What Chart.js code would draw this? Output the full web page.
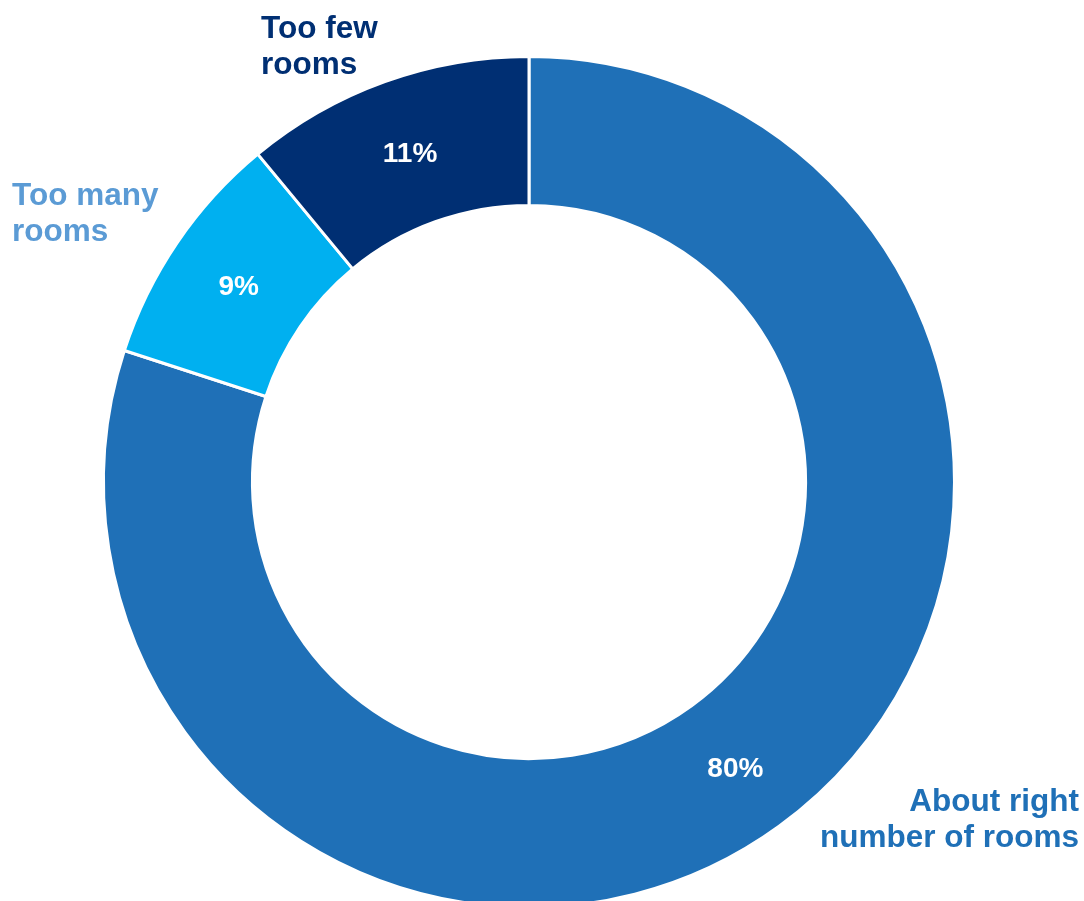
<!DOCTYPE html>
<html>
<head>
<meta charset="utf-8">
<script src="https://cdn.jsdelivr.net/npm/chart.js@4.4.1/dist/chart.umd.min.js"></script>
<style>
  html, body { margin: 0; padding: 0; background: #fff; overflow: hidden; }
  #wrap { width: 1084px; height: 964px; }
</style>
</head>
<body>
<div id="wrap"><canvas id="myChart" width="1084" height="964"></canvas></div>
<script>
const categories = ['About right number of rooms', 'Too many rooms', 'Too few rooms'];
const shares = [80, 9, 11];
const sliceColors = ['#1F70B7', '#00B0F0', '#002F73'];

// outside category labels: text lines, colour, anchor relative to the ring centre
const outerLabels = [
    { lines: ['About right', 'number of rooms'], color: '#1F70B7', align: 'right', dx: 550, dy: 329 },
    { lines: ['Too many', 'rooms'], color: '#5B9BD5', align: 'left', dx: -517, dy: -277 },
    { lines: ['Too few', 'rooms'], color: '#002F73', align: 'left', dx: -268, dy: -444 }
];

const ringLabels = {
    id: 'ringLabels',
    afterDatasetsDraw(chart) {
        const ctx = chart.ctx;
        const arcs = chart.getDatasetMeta(0).data;
        ctx.save();
        ctx.textAlign = 'center';
        ctx.textBaseline = 'middle';
        ctx.fillStyle = '#ffffff';
        ctx.font = 'bold 28px "Liberation Sans", Arial, sans-serif';
        arcs.forEach((arc, i) => {
            const p = arc.getCenterPoint();
            ctx.fillText(shares[i] + '%', p.x, p.y + 3);
        });

        const cx = arcs[0].x, cy = arcs[0].y;
        ctx.font = 'bold 31.5px "Liberation Sans", Arial, sans-serif';
        ctx.textBaseline = 'alphabetic';
        outerLabels.forEach(lbl => {
            ctx.fillStyle = lbl.color;
            ctx.textAlign = lbl.align;
            lbl.lines.forEach((line, j) => {
                ctx.fillText(line, cx + lbl.dx, cy + lbl.dy + j * 36);
            });
        });
        ctx.restore();
    }
};

const ctx = document.getElementById('myChart').getContext('2d');
const myChart = new Chart(ctx, {
    type: 'doughnut',
    data: {
        labels: categories,
        datasets: [{
            data: shares,
            backgroundColor: sliceColors,
            borderColor: '#ffffff',
            borderWidth: 3
        }]
    },
    options: {
        responsive: false,
        animation: false,
        cutout: '65%',
        layout: { padding: { top: 55, bottom: 55, left: 0, right: 26 } },
        plugins: {
            legend: { display: false },
            tooltip: { enabled: false }
        }
    },
    plugins: [ringLabels]
});
</script>
</body>
</html>
